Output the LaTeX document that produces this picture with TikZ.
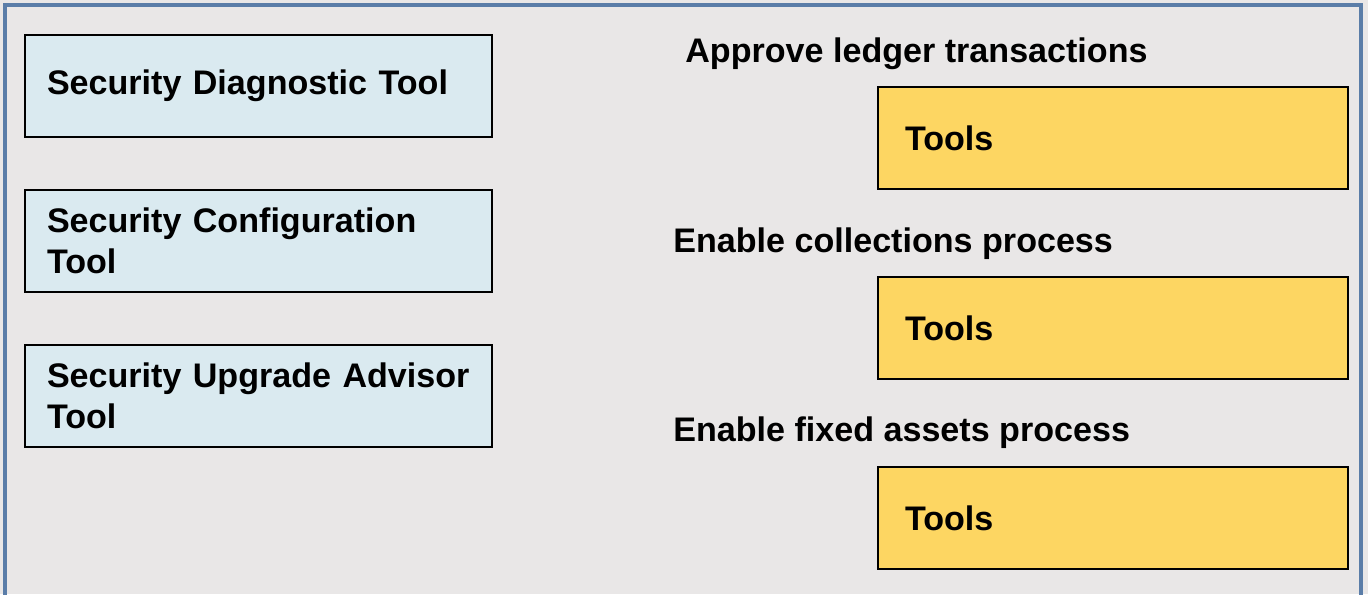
\documentclass[tikz,border=0pt]{standalone}
\usepackage{fontspec}
\setmainfont{Liberation Sans}
\usetikzlibrary{positioning}
\definecolor{paleblue}{HTML}{DAEAF0}
\definecolor{toolyellow}{HTML}{FDD662}
\definecolor{panelgray}{HTML}{E9E7E7}
\definecolor{framblue}{HTML}{5A7DA8}
\tikzstyle{toolbox} = [rectangle, minimum width=9.34cm, minimum height=2.04cm, text width=8.46cm, inner xsep=0.44cm, outer sep=0pt, align=left, draw=black, line width=1.6pt, fill=paleblue, font=\fontsize{19.4}{23.5}\selectfont\bfseries]
\tikzstyle{taskbox} = [rectangle, minimum width=9.4cm, minimum height=2.04cm, text width=8.32cm, inner xsep=0.54cm, outer sep=0pt, align=left, draw=black, line width=1.6pt, fill=toolyellow, font=\fontsize{19.4}{23.5}\selectfont\bfseries]
\tikzstyle{heading} = [inner sep=0pt, anchor=west, font=\fontsize{19.4}{23.5}\selectfont\bfseries]

\begin{document}
\begin{tikzpicture}[node distance=1.06cm]
    \fill[panelgray] (0,0) rectangle (27.36,-11.88);
    \useasboundingbox (0,0) rectangle (27.36,-11.88);
    \draw[framblue, line width=2.2pt] (0.1,-11.95)--(0.1,-0.1)--(27.22,-0.1)--(27.22,-11.95);

    \node (diag) [toolbox] at (5.17,-1.72) {Security Diagnostic Tool};
    \node (config) [toolbox, below=of diag] {Security Configuration Tool};
    \node (upgrade) [toolbox, below=of config] {Security Upgrade Advisor Tool};

    \node (tools1) [taskbox] at (22.26,-2.76) {Tools};
    \node (tools2) [taskbox, below=1.76cm of tools1] {Tools};
    \node (tools3) [taskbox, below=1.76cm of tools2] {Tools};

    \node (ledger) [heading] at ([xshift=-3.86cm, yshift=0.66cm]tools1.north west) {Approve ledger transactions};
    \node (collect) [heading] at ([xshift=-4.1cm, yshift=0.66cm]tools2.north west) {Enable collections process};
    \node (assets) [heading] at ([xshift=-4.1cm, yshift=0.68cm]tools3.north west) {Enable fixed assets process};

\end{tikzpicture}
\end{document}
